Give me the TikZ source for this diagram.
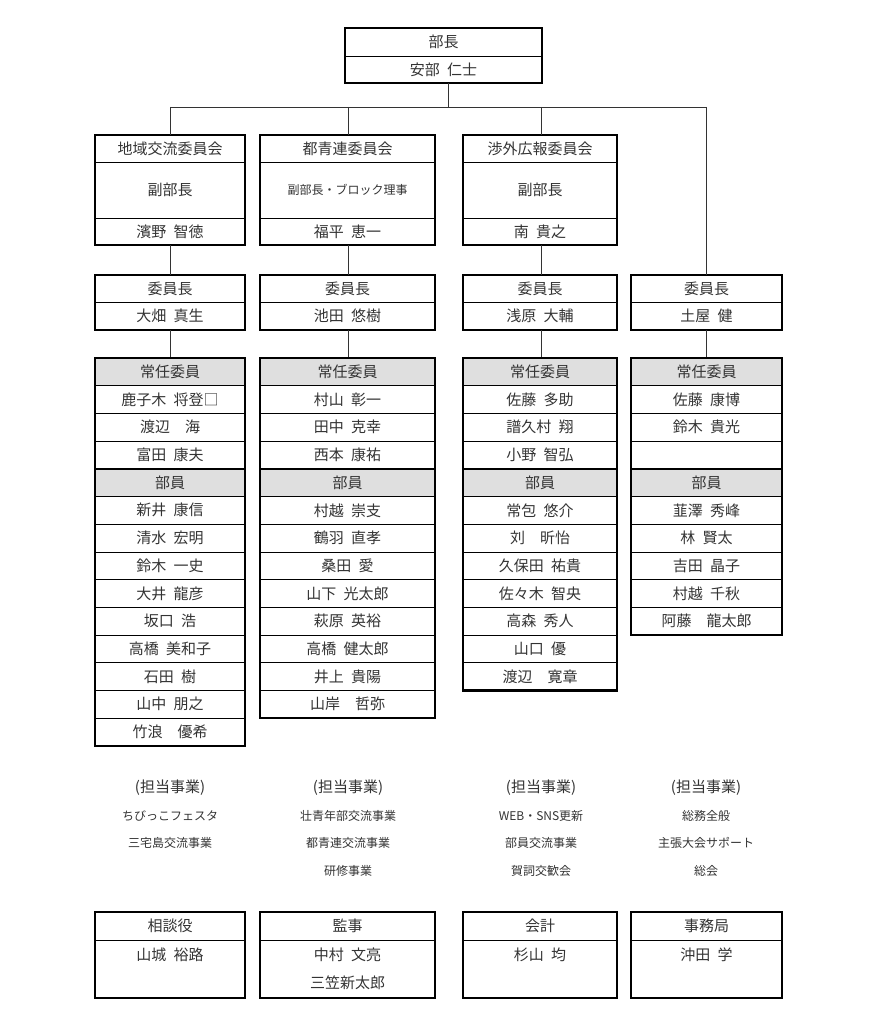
\documentclass[tikz,border=0pt]{standalone}
\usepackage{fontspec}
\newfontfamily\cjk[WordSpace=2.2]{Noto Sans CJK JP}
\tikzset{
 outer/.style={draw=black,line width=2.2pt},
 inner/.style={draw=black,line width=0.8pt},
 conn/.style={draw=black!80,line width=0.8pt},
 tx/.style={font=\cjk\fontsize{15}{15}\selectfont,text=black!80,inner sep=0pt},
 sm/.style={font=\cjk\fontsize{12}{12}\selectfont,text=black!80,inner sep=0pt},
 hdr/.style={fill=gray!25}
}
\newcommand\memcol[5]{%
 \pgfmathsetmacro\cx{(#2+#3)/2}
 \fill[hdr] (#2,358) rectangle (#3,358+27.7);
 \fill[hdr] (#2,358+4*27.7) rectangle (#3,358+5*27.7);
 \node[tx] (#1h1) at (\cx,358+0.5*27.7) {常任委員};
 \node[tx] (#1h2) at (\cx,358+4.5*27.7) {部員};
 \foreach \n [count=\i] in {#4} {
   \node[tx] (#1s\i) at (\cx,358+\i*27.7+0.5*27.7) {\n};
   \draw[inner] (#2,358+\i*27.7) -- (#3,358+\i*27.7);
 }
 \foreach \n [count=\i] in {#5} {
   \node[tx] (#1m\i) at (\cx,358+4*27.7+\i*27.7+0.5*27.7) {\n};
   \draw[inner] (#2,358+4*27.7+\i*27.7) -- (#3,358+4*27.7+\i*27.7);
   \xdef\lastrow{\i}
 }
 \draw[outer] (#2,358+4*27.7) -- (#3,358+4*27.7);
 \draw[outer] (#2,358) rectangle (#3,358+5*27.7+\lastrow*27.7);
}
\begin{document}
\begin{tikzpicture}[x=1pt,y=-1pt]
\useasboundingbox (0,0) rectangle (878,1024);
\draw[inner] (345,56) -- (542,56);
\draw[outer] (345,28) rectangle (542,83);
\node[tx] (top1) at (443.5,42) {部長};
\node[tx] (top2) at (443.5,70) {安部 仁士};
\coordinate (topb) at (448,83);
\coordinate (bus) at (448,107);
\coordinate (b1) at (170,107);
\coordinate (b4) at (706,107);
\draw[conn] (topb) -- (bus);
\draw[conn] (b1) -- (b4);
\foreach \l/\r/\a/\b/\c/\k in {95/245/地域交流委員会/副部長/濱野 智徳/1, 260/435/都青連委員会/{\fontsize{12}{12}\selectfont 副部長・ブロック理事}/福平 恵一/2, 463/617/渉外広報委員会/副部長/南 貴之/3}{
 \pgfmathsetmacro\cx{(\l+\r)/2}
 \draw[inner] (\l,162) -- (\r,162);
 \draw[inner] (\l,218) -- (\r,218);
 \draw[outer] (\l,135) rectangle (\r,245);
 \node[tx] (u\k a) at (\cx,148.5) {\a};
 \node[tx] (u\k b) at (\cx,190) {\b};
 \node[tx] (u\k c) at (\cx,231.5) {\c};
}
\foreach \l/\r/\n/\k in {95/245/大畑 真生/1, 260/435/池田 悠樹/2, 463/617/浅原 大輔/3, 631/782/土屋 健/4}{
 \pgfmathsetmacro\cx{(\l+\r)/2}
 \draw[inner] (\l,302) -- (\r,302);
 \draw[outer] (\l,275) rectangle (\r,330);
 \node[tx] (ch\k a) at (\cx,288.5) {委員長};
 \node[tx] (ch\k b) at (\cx,316) {\n};
}
\foreach \x/\k in {170/1,348/2,541/3}{
 \coordinate (d\k) at (\x,107);
 \draw[conn] (d\k) -- (\x,135);
 \draw[conn] (\x,245) -- (\x,275);
 \draw[conn] (\x,330) -- (\x,358);
}
\draw[conn] (b4) -- (706,275);
\draw[conn] (706,330) -- (706,358);
\memcol{a}{95}{245}{鹿子木 将登□,渡辺　海,富田 康夫}{新井 康信,清水 宏明,鈴木 一史,大井 龍彦,坂口 浩,高橋 美和子,石田 樹,山中 朋之,竹浪　優希}
\memcol{b}{260}{435}{村山 彰一,田中 克幸,西本 康祐}{村越 崇支,鶴羽 直孝,桑田 愛,山下 光太郎,萩原 英裕,高橋 健太郎,井上 貴陽,山岸　哲弥}
\memcol{c}{463}{617}{佐藤 多助,譜久村 翔,小野 智弘}{常包 悠介,刘　昕怡,久保田 祐貴,佐々木 智央,高森 秀人,山口 優,渡辺　寛章}
\memcol{d}{631}{782}{佐藤 康博,鈴木 貴光,{}}{韮澤 秀峰,林 賢太,吉田 晶子,村越 千秋,阿藤　龍太郎}
\foreach \x/\k in {170/1,348/2,541/3,706/4}{
 \node[tx] (duty\k) at (\x,788) {(担当事業)};
}
\node[sm] (e11) at (170,816) {ちびっこフェスタ};
\node[sm] (e12) at (170,843) {三宅島交流事業};
\node[sm] (e21) at (348,816) {壮青年部交流事業};
\node[sm] (e22) at (348,843) {都青連交流事業};
\node[sm] (e23) at (348,871) {研修事業};
\node[sm] (e31) at (541,816) {WEB・SNS更新};
\node[sm] (e32) at (541,843) {部員交流事業};
\node[sm] (e33) at (541,871) {賀詞交歓会};
\node[sm] (e41) at (706,816) {総務全般};
\node[sm] (e42) at (706,843) {主張大会サポート};
\node[sm] (e43) at (706,871) {総会};
\foreach \l/\r/\t/\a/\b/\k in {95/245/相談役/山城 裕路/{}/1, 260/435/監事/中村 文亮/三笠新太郎/2, 463/617/会計/杉山 均/{}/3, 631/782/事務局/沖田 学/{}/4}{
 \pgfmathsetmacro\cx{(\l+\r)/2}
 \draw[inner] (\l,940) -- (\r,940);
 \draw[outer] (\l,912) rectangle (\r,998);
 \node[tx] (f\k t) at (\cx,926) {\t};
 \node[tx] (f\k a) at (\cx,955) {\a};
 \node[tx] (f\k b) at (\cx,983) {\b};
}
\end{tikzpicture}
\end{document}
